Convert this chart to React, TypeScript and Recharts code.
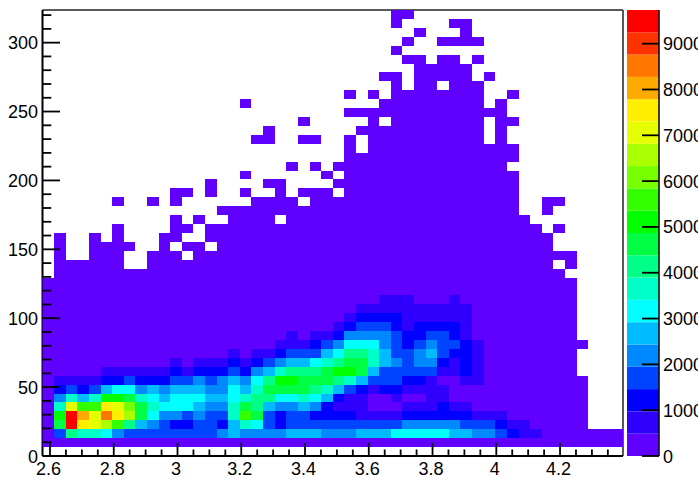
import { Bar, BarChart, ReferenceLine, Scatter, ScatterChart, XAxis, YAxis } from "recharts";

const WIDTH = 698;
const HEIGHT = 479;
const LEFT = 42.5;
const RIGHT = 623;
const TOP = 10;
const BOTTOM = 456;
const FONT = "'Liberation Sans', Arial, sans-serif";

const xRange = [2.5765, 4.3975];
const yRange = [0, 323.7];
const zMax = 9735;

const xMajor = [2.6, 2.8, 3, 3.2, 3.4, 3.6, 3.8, 4, 4.2];
const xTicks = [
  2.6, 2.65, 2.7, 2.75, 2.8, 2.85, 2.9, 2.95, 3, 3.05, 3.1, 3.15, 3.2, 3.25, 3.3, 3.35, 3.4,
  3.45, 3.5, 3.55, 3.6, 3.65, 3.7, 3.75, 3.8, 3.85, 3.9, 3.95, 4, 4.05, 4.1, 4.15, 4.2, 4.25,
  4.3, 4.35,
];
const yMajor = [0, 50, 100, 150, 200, 250, 300];
const yTicks = [
  0, 10, 20, 30, 40, 50, 60, 70, 80, 90, 100, 110, 120, 130, 140, 150, 160, 170, 180, 190, 200,
  210, 220, 230, 240, 250, 260, 270, 280, 290, 300, 310, 320,
];
const colorTicks = [0, 1000, 2000, 3000, 4000, 5000, 6000, 7000, 8000, 9000];

const palette = [
  "#6000ff", "#3000ff", "#0000ff", "#0044ff", "#0088ff", "#00bbff", "#00ffff", "#00ffc8",
  "#00ff88", "#00ff44", "#00ff00", "#33ff00", "#77ff00", "#aaff00", "#e5ff00", "#ffee00",
  "#ffaa00", "#ff7700", "#ff3300", "#ff0000",
];

// one string per y bin, top row first. "." = empty bin, other chars = palette index (base 20)
const binRows = [
  ".......... .......... .......... 00........ ..........",
  ".......... .......... .......... 0....00... ..........",
  ".......... .......... .......... ..0...0... ..........",
  ".......... .......... .......... .0..0000.. ..........",
  ".......... .......... .......... 0......... ..........",
  ".......... .......... .......... .00.00.0.. ..........",
  ".......... .......... .......... ..00000... ..........",
  ".......... .......... .........0 0.00000.0. ..........",
  ".......... .......... .......... 0.00.000.. ..........",
  ".......... .......... ......0.0. 00000000.. 0.........",
  ".......... .......0.. .........0 00000000.0 ..........",
  ".......... .......... ......0000 0000000000 ..........",
  ".......... .......... ..0.....0. 00000000.0 0.........",
  ".......... .........0 .......000 00000000.0 ..........",
  ".......... ........00 ..00..0.00 00000000.0 ..........",
  ".......... .......... ......0.00 0000000000 0.........",
  ".......... .......... ......0000 0000000000 0.........",
  ".......... .......... .0.0.00000 0000000000 ..........",
  ".......... .......0.. ....0.0000 0000000000 0.........",
  ".......... ....0....0 0....00000 0000000000 0.........",
  ".......... .00.0..0.. 0.000.0000 0000000000 0.........",
  "......0..0 .0......00 00.0000000 0000000000 0..00.....",
  ".......... .....00000 0000000000 0000000000 0..0......",
  ".......... .0.0..0000 .000000000 0000000000 00........",
  "......0... .00.000000 0000000000 0000000000 000.0.....",
  ".0..0.0... 00..000000 0000000000 0000000000 0000......",
  ".0..0000.. 0.00.00000 0000000000 0000000000 0000......",
  ".0..000..0 00.0000000 0000000000 0000000000 000000....",
  ".000000..0 0000000000 0000000000 0000000000 0000.0....",
  ".000000000 0000000000 0000000000 0000000000 00000.....",
  "0000000000 0000000000 0000000000 0000000000 000000....",
  "0000000000 0000000000 0000000000 0000000000 000000....",
  "0000000000 0000000000 0000000001 1100010000 000000....",
  "0000000000 0000000000 0000000111 1111111000 000000....",
  "0000000000 0000000000 0000001222 2111111000 000000....",
  "0000000000 0000000000 0000012333 2122221000 000000....",
  "0000000000 0000000000 0101124444 3223321000 000000....",
  "0000000000 0000000000 1112346664 3234332100 0000000...",
  "0000000000 0000001011 2333568875 3345322100 000000....",
  "0000000000 0101112123 4556789975 4344212100 000000....",
  "0000011111 1212223245 78889aa953 3333112100 000000....",
  "0111122322 2334345468 aa99987533 3221001100 0000000...",
  "0232356645 4555446579 9998753212 2111100000 0000000...",
  "04757aa976 5666556788 6676521100 1001100000 0000000...",
  "07ebbfec97 6665447985 4454211100 0111211000 0000000...",
  "0ajgehfd96 4434337b93 2332222111 1222222111 0000000...",
  "09jfedb854 3223325763 2333333333 3444443332 1100000...",
  "0387764333 3333345444 4555444555 6666655443 2110000000",
  "0000000000 0000000000 0000000000 0000000000 0000000000",
  ".......... .......... .......... .......... ..........",
];

const grid = binRows.map((row) => row.replace(/ /g, ""));
const nx = grid[0].length;
const ny = grid.length;
const binX = (xRange[1] - xRange[0]) / nx;
const binY = (yRange[1] - yRange[0]) / ny;

const cells = grid.flatMap((row, r) =>
  row.split("").flatMap((ch, c) =>
    ch === "."
      ? []
      : [
          {
            x: xRange[0] + (c + 0.5) * binX,
            y: yRange[0] + (ny - r - 0.5) * binY,
            level: parseInt(ch, 20),
          },
        ],
  ),
);

const colorBand: Record<string, number> = { name: 0 };
palette.forEach((_, i) => {
  colorBand["band" + i] = zMax / palette.length;
});

function BinCell(props: any) {
  const { cx, cy, payload } = props;
  const w = (RIGHT - LEFT) / nx;
  const h = (BOTTOM - TOP) / ny;
  const x0 = Math.round(cx - w / 2);
  const x1 = Math.round(cx + w / 2);
  const y0 = Math.round(cy - h / 2);
  const y1 = Math.round(cy + h / 2);
  return <rect x={x0} y={y0} width={x1 - x0} height={y1 - y0} fill={palette[payload.level]} shapeRendering="crispEdges" />;
}

function XTick(props: any) {
  const { x, payload } = props;
  const major = xMajor.includes(payload.value);
  return (
    <g>
      <line x1={x} x2={x} y1={BOTTOM} y2={major ? BOTTOM - 13 : BOTTOM - 6.5} stroke="#000" strokeWidth={1.8} />
      {major && (
        <text x={x - 1.5} y={475} textAnchor="middle" fontFamily={FONT} fontSize={18} fill="#000">
          {payload.value}
        </text>
      )}
    </g>
  );
}

function YTick(props: any) {
  const { y, payload } = props;
  const major = yMajor.includes(payload.value);
  return (
    <g>
      <line x1={LEFT} x2={major ? LEFT + 17.5 : LEFT + 8.8} y1={y} y2={y} stroke="#000" strokeWidth={1.8} />
      {major && (
        <text x={38} y={y + 6.5} textAnchor="end" fontFamily={FONT} fontSize={18} fill="#000">
          {payload.value}
        </text>
      )}
    </g>
  );
}

function ColorTick(props: any) {
  const { y, payload } = props;
  return (
    <g>
      <line x1={642} x2={659} y1={y} y2={y} stroke="#000" strokeWidth={1.8} />
      <text x={663} y={y + 6.5} fontFamily={FONT} fontSize={18} fill="#000">
        {payload.value}
      </text>
    </g>
  );
}

export default function App() {
  return (
    <div style={{ position: "absolute", left: 0, top: 0, width: WIDTH, height: HEIGHT, overflow: "hidden", background: "#fff" }}>
      <div style={{ position: "absolute", left: 0, top: 0 }}>
        <ScatterChart width={WIDTH} height={HEIGHT} margin={{ top: TOP, right: WIDTH - RIGHT, bottom: 0, left: 0 }}>
          <Scatter data={cells} shape={BinCell} isAnimationActive={false} />
          <ReferenceLine x={xRange[1]} stroke="#222" strokeWidth={1.5} />
          <ReferenceLine y={yRange[1]} stroke="#222" strokeWidth={1.5} />
          <XAxis
            type="number"
            dataKey="x"
            domain={xRange}
            ticks={xTicks}
            interval={0}
            height={HEIGHT - BOTTOM}
            tickLine={false}
            tick={XTick}
            axisLine={{ stroke: "#000", strokeWidth: 2 }}
            allowDataOverflow
          />
          <YAxis
            type="number"
            dataKey="y"
            domain={yRange}
            ticks={yTicks}
            interval={0}
            width={LEFT}
            tickLine={false}
            tick={YTick}
            axisLine={{ stroke: "#000", strokeWidth: 2 }}
            allowDataOverflow
          />
        </ScatterChart>
      </div>
      <div style={{ position: "absolute", left: 0, top: 0 }}>
        <BarChart
          width={WIDTH}
          height={HEIGHT}
          data={[colorBand]}
          barCategoryGap={0}
          margin={{ top: TOP, right: 0, bottom: HEIGHT - BOTTOM, left: 627 }}
        >
          {palette.map((color, i) => (
            <Bar key={color} dataKey={"band" + i} stackId="z" fill={color} isAnimationActive={false} />
          ))}
          <XAxis dataKey="name" hide />
          <YAxis
            orientation="right"
            type="number"
            domain={[0, zMax]}
            ticks={colorTicks}
            interval={0}
            width={WIDTH - 659}
            tickLine={false}
            tick={ColorTick}
            axisLine={{ stroke: "#000", strokeWidth: 1.5 }}
            allowDataOverflow
          />
        </BarChart>
      </div>
    </div>
  );
}
